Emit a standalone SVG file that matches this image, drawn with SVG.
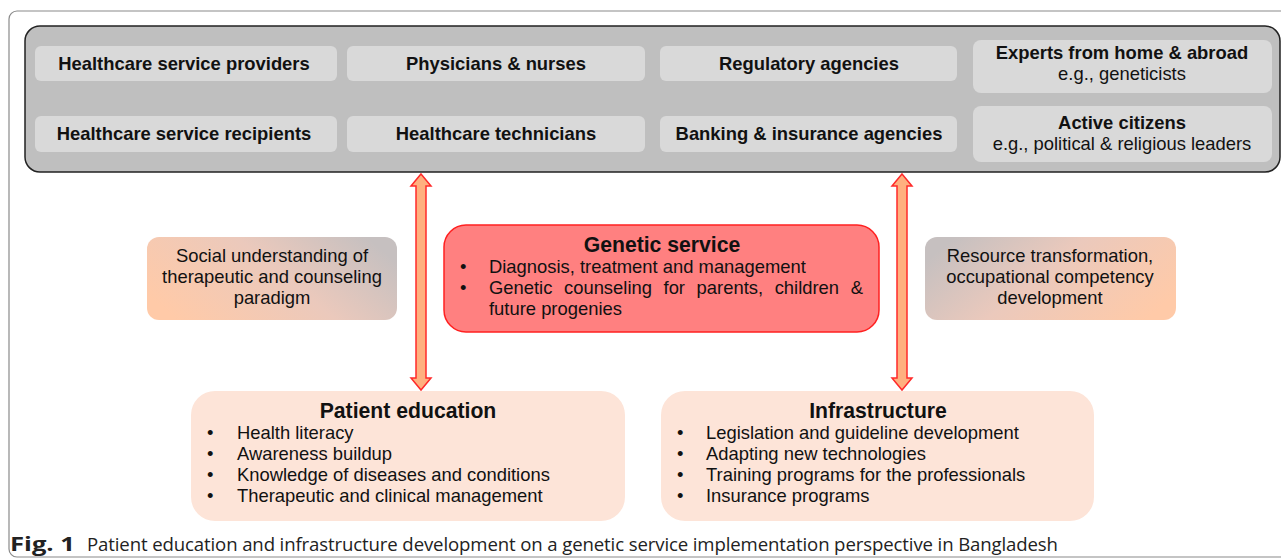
<svg xmlns="http://www.w3.org/2000/svg" width="1281" height="559" viewBox="0 0 1281 559">
<defs>
<style>
.t{font-family:"Liberation Sans",Arial,sans-serif;fill:#111;}
.b{font-weight:bold;}
.cell{fill:#d9d9d9;}
.cap{font-family:"Open Sans","Noto Sans",sans-serif;fill:#222;}
.arrow{fill:#ffb07f;stroke:#ff2a2a;stroke-width:1.5;}
.soft{fill:#fde4d8;}
</style>
<linearGradient id="gL" x1="0" y1="0.7" x2="1" y2="0.3">
<stop offset="0" stop-color="#ffcaa8"/>
<stop offset="0.55" stop-color="#ebc9bc"/>
<stop offset="1" stop-color="#c6c0c0"/>
</linearGradient>
<linearGradient id="gR" x1="0" y1="0.3" x2="1" y2="0.7">
<stop offset="0" stop-color="#c6c0c0"/>
<stop offset="0.45" stop-color="#ebc9bc"/>
<stop offset="1" stop-color="#ffcaa8"/>
</linearGradient>
</defs>
<rect x="9" y="11" width="1300" height="546" rx="8" fill="none" stroke="#8a8a8a" stroke-width="1.2"/>
<g id="stakeholders">
<rect x="25" y="26" width="1255" height="146" rx="15" fill="#bfbfbf" stroke="#222" stroke-width="1.5"/>
<g id="n-providers"><rect class="cell" x="35" y="46" width="302" height="35" rx="6"/><text class="t b" x="184" y="70" font-size="18.4" text-anchor="middle">Healthcare service providers</text></g>
<g id="n-physicians"><rect class="cell" x="347" y="46" width="298" height="35" rx="6"/><text class="t b" x="496" y="70" font-size="18.4" text-anchor="middle">Physicians &amp; nurses</text></g>
<g id="n-regulatory"><rect class="cell" x="660" y="46" width="297" height="35" rx="6"/><text class="t b" x="809" y="70" font-size="18.4" text-anchor="middle">Regulatory agencies</text></g>
<g id="n-experts"><rect class="cell" x="973" y="40" width="299" height="53" rx="8"/><text class="t b" x="1122" y="59" font-size="18.4" text-anchor="middle">Experts from home &amp; abroad</text><text class="t" x="1122" y="80" font-size="18.4" text-anchor="middle">e.g., geneticists</text></g>
<g id="n-recipients"><rect class="cell" x="35" y="116" width="302" height="36" rx="6"/><text class="t b" x="184" y="140" font-size="18.4" text-anchor="middle">Healthcare service recipients</text></g>
<g id="n-technicians"><rect class="cell" x="347" y="116" width="298" height="36" rx="6"/><text class="t b" x="496" y="140" font-size="18.4" text-anchor="middle">Healthcare technicians</text></g>
<g id="n-banking"><rect class="cell" x="660" y="116" width="297" height="36" rx="6"/><text class="t b" x="809" y="140" font-size="18.4" text-anchor="middle">Banking &amp; insurance agencies</text></g>
<g id="n-citizens"><rect class="cell" x="973" y="106" width="299" height="56" rx="8"/><text class="t b" x="1122" y="129" font-size="18.4" text-anchor="middle">Active citizens</text><text class="t" x="1122" y="150" font-size="18.4" text-anchor="middle">e.g., political &amp; religious leaders</text></g>
</g>
<g id="connectors">
<path class="arrow" d="M421,174 L431,186 L426,186 L426,378 L431,378 L421,390 L411,378 L416,378 L416,186 L411,186 Z"/>
<path class="arrow" d="M902,174 L912,186 L907,186 L907,378 L912,378 L902,390 L892,378 L897,378 L897,186 L892,186 Z"/>
</g>
<g id="n-social">
<rect x="147" y="237" width="250" height="83" rx="12" fill="url(#gL)"/>
<text class="t" font-size="18.4" text-anchor="middle"><tspan x="272" y="262">Social understanding of</tspan><tspan x="272" y="283">therapeutic and counseling</tspan><tspan x="272" y="304">paradigm</tspan></text>
</g>
<g id="n-genetic">
<rect x="444" y="225" width="435" height="107" rx="22" fill="#ff8080" stroke="#ff2020" stroke-width="1.5"/>
<text class="t b" x="662" y="252" font-size="21.2" text-anchor="middle">Genetic service</text>
<text class="t" font-size="18.4"><tspan x="460" y="273">•</tspan><tspan x="489" y="273">Diagnosis, treatment and management</tspan><tspan x="460" y="294">•</tspan><tspan x="489" y="294" word-spacing="6.5">Genetic counseling for parents, children &amp;</tspan><tspan x="489" y="315">future progenies</tspan></text>
</g>
<g id="n-resource">
<rect x="925" y="237" width="251" height="83" rx="12" fill="url(#gR)"/>
<text class="t" font-size="18.4" text-anchor="middle"><tspan x="1050" y="262">Resource transformation,</tspan><tspan x="1050" y="283">occupational competency</tspan><tspan x="1050" y="304">development</tspan></text>
</g>
<g id="n-patient">
<rect class="soft" x="191" y="391" width="434" height="130" rx="24"/>
<text class="t b" x="408" y="418" font-size="21.2" text-anchor="middle">Patient education</text>
<text class="t" font-size="18.4"><tspan x="207" y="439">•</tspan><tspan x="237" y="439">Health literacy</tspan><tspan x="207" y="460">•</tspan><tspan x="237" y="460">Awareness buildup</tspan><tspan x="207" y="481">•</tspan><tspan x="237" y="481">Knowledge of diseases and conditions</tspan><tspan x="207" y="502">•</tspan><tspan x="237" y="502">Therapeutic and clinical management</tspan></text>
</g>
<g id="n-infra">
<rect class="soft" x="661" y="391" width="433" height="130" rx="24"/>
<text class="t b" x="878" y="418" font-size="21.2" text-anchor="middle">Infrastructure</text>
<text class="t" font-size="18.4"><tspan x="677" y="439">•</tspan><tspan x="706" y="439">Legislation and guideline development</tspan><tspan x="677" y="460">•</tspan><tspan x="706" y="460">Adapting new technologies</tspan><tspan x="677" y="481">•</tspan><tspan x="706" y="481">Training programs for the professionals</tspan><tspan x="677" y="502">•</tspan><tspan x="706" y="502">Insurance programs</tspan></text>
</g>
<g id="caption">
<text class="cap" y="551"><tspan x="10" font-weight="bold" font-size="20" textLength="65" lengthAdjust="spacingAndGlyphs">Fig. 1</tspan><tspan x="87" font-size="18.6" textLength="971" lengthAdjust="spacing">Patient education and infrastructure development on a genetic service implementation perspective in Bangladesh</tspan></text>
</g>
</svg>
